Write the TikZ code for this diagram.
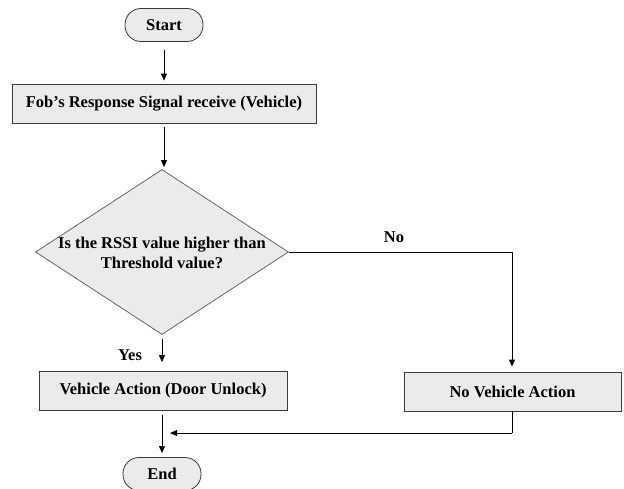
\documentclass[tikz,border=0pt]{standalone}
\usepackage{fontspec}
\setmainfont{Liberation Serif}
\usetikzlibrary{arrows.meta,shapes.geometric}
\definecolor{boxfill}{HTML}{EBEBEB}
\definecolor{boxline}{HTML}{3A3A3A}
\tikzset{
  x=1pt, y=-1pt,
  every node/.style={font=\fontsize{16.5}{20.5}\selectfont\bfseries},
  terminal/.style={draw=boxline, fill=boxfill, line width=0.8pt, rounded corners=16pt,
    minimum width=78pt, minimum height=33pt, inner sep=0pt},
  process/.style={draw=boxline, fill=boxfill, line width=0.8pt,
    minimum height=39pt, inner sep=0pt},
  decision/.style={diamond, draw=gray!80!black, fill=boxfill, line width=0.8pt,
    minimum width=253pt, minimum height=165pt, inner sep=0pt},
  flow/.style={line width=0.8pt, -{Triangle[length=7pt,width=6pt]}},
  plain/.style={line width=0.8pt}
}
\begin{document}
\begin{tikzpicture}
\useasboundingbox (0,0) rectangle (624,489);

\node[terminal] (start) at (164,25) {Start};
\node[process, minimum width=304pt] (fob) at (164,103.5) {Fob’s Response Signal receive (Vehicle)};
\node[decision] (rssi) at (162,252) {};
\node[align=center] (rssitext) at (162,253) {Is the RSSI value higher than\\Threshold value?};
\node[process, minimum width=248pt] (act) at (163,391) {Vehicle Action (Door Unlock)};
\node[process, minimum width=217pt] (noact) at (512.5,391.5) {No Vehicle Action};
\node[terminal] (end) at (162,474) {End};

\coordinate (nocorner) at (512,252);
\coordinate (back) at (512,433);
\coordinate (join) at (170,433);

% main vertical flow
\draw[flow] ([yshift=-8pt]start.south) -- ([yshift=3pt]fob.north);
\draw[flow] ([yshift=-4pt]fob.south) -- ([yshift=2pt]fob.south |- rssi.north);
\draw[flow] ([yshift=-4pt]rssi.south) -- ([yshift=9pt]rssi.south |- act.north);
\draw[flow] ([yshift=-4pt]rssi.south |- act.south) -- ([yshift=4pt]end.north);
% "No" branch and return line
\draw[flow] (rssi.east) -- (nocorner) -- ([yshift=5pt]noact.north -| nocorner);
\draw[plain] (noact.south -| nocorner) -- (back);
\draw[flow] (back) -- (join);

\node at (130,355) {Yes};
\node at (394,237) {No};
\end{tikzpicture}
\end{document}
